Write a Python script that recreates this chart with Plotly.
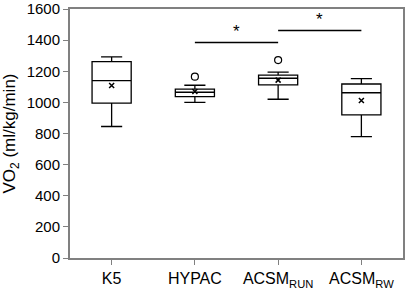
import plotly.graph_objects as go

categories = ["K5", "HYPAC", "ACSM<sub>RUN</sub>", "ACSM<sub>RW</sub>"]
lower_whisker = [845, 1000, 1020, 780]
q1 = [995, 1037, 1112, 920]
median = [1140, 1065, 1155, 1062]
q3 = [1262, 1085, 1175, 1118]
upper_whisker = [1292, 1110, 1195, 1152]
means = [1108, 1070, 1143, 1012]
outlier_cat = [1, 2]
outlier_val = [1165, 1272]
y_ticks = [0, 200, 400, 600, 800, 1000, 1200, 1400, 1600]
sig_pairs = [(1, 2, 1385), (2, 3, 1462)]

xs = list(range(len(categories)))
fig = go.Figure()
fig.add_trace(go.Box(
    x=xs, q1=q1, median=median, q3=q3,
    lowerfence=lower_whisker, upperfence=upper_whisker,
    width=0.47, whiskerwidth=0.54,
    line=dict(color="black", width=1.3),
    fillcolor="rgba(0,0,0,0)", boxpoints=False, showlegend=False,
))
fig.add_trace(go.Scatter(
    x=xs, y=means, mode="markers",
    marker=dict(symbol="x-thin", size=5, line=dict(color="black", width=1.5)),
    showlegend=False,
))
fig.add_trace(go.Scatter(
    x=outlier_cat, y=outlier_val, mode="markers",
    marker=dict(symbol="circle-open", size=7, color="black", line=dict(width=1.2)),
    showlegend=False,
))
for a, b, y in sig_pairs:
    fig.add_shape(type="line", x0=a, x1=b, y0=y, y1=y,
                  line=dict(color="black", width=1.5))
    fig.add_annotation(x=(a + b) / 2, y=y, text="*", showarrow=False,
                       yanchor="bottom", yshift=-1,
                       font=dict(size=17, color="black"))

fig.update_layout(
    width=407, height=289,
    margin=dict(l=70, r=4, t=9, b=31),
    paper_bgcolor="white", plot_bgcolor="white",
    font=dict(family="Liberation Sans, Arial", size=14, color="black"),
)
fig.update_xaxes(
    range=[-0.5, 3.5], tickvals=xs, ticktext=categories,
    showline=True, linecolor="#808080", linewidth=2, mirror=True,
    ticks="outside", ticklen=5, tickcolor="#808080", showgrid=False,
    zeroline=False, tickfont=dict(size=16), automargin=False,
)
fig.update_yaxes(
    range=[0, 1600], tickvals=y_ticks,
    showline=True, linecolor="#808080", linewidth=2, mirror=True,
    ticks="outside", ticklen=5, tickcolor="#808080", showgrid=False,
    zeroline=False, tickfont=dict(size=15), automargin=False,
    title=dict(text="VO<sub>2</sub> (ml/kg/min)", font=dict(size=17)),
)
# remove the page's default 8px body margin so the figure fills the window
fig.write_html("out.html", config={"displayModeBar": False},
               post_script="document.body.style.margin='0';document.body.style.overflow='hidden';")
